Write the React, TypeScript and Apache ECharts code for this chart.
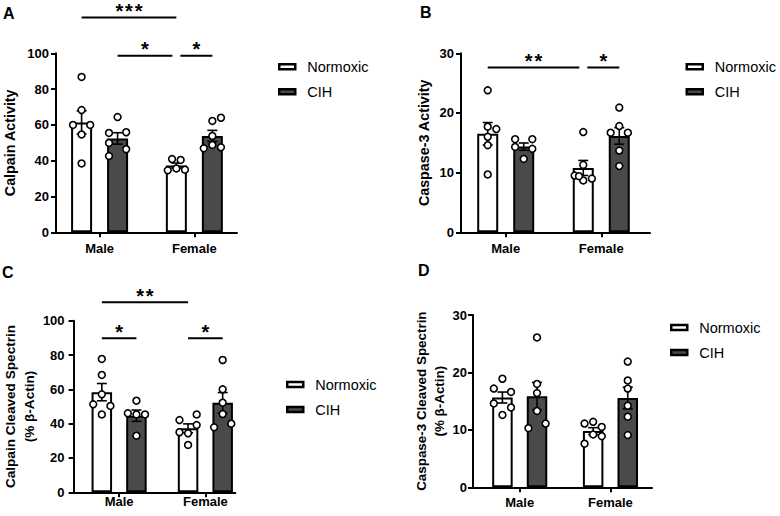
import React, { useEffect, useRef } from "react";
import * as echarts from "echarts";

// ---------- data ----------
const groups = ["Male", "Female"];
const treatments = ["Normoxic", "CIH"];

// Panel A – Calpain Activity (individual animals) [Male, Female]
const calpainActivityNormoxic = [
  [86.8, 68.3, 60.0, 60.0, 54.7, 38.5],
  [40.9, 40.4, 34.6, 35.7, 35.0],
];
const calpainActivityCIH = [
  [64.4, 55.5, 55.9, 49.9, 46.4, 42.6],
  [62.2, 64.0, 53.8, 46.9, 48.8, 47.5],
];

// Panel B – Caspase-3 Activity
const caspaseActivityNormoxic = [
  [23.8, 17.7, 17.3, 16.0, 14.6, 9.7],
  [16.8, 11.3, 9.5, 8.7, 9.0, 9.4],
];
const caspaseActivityCIH = [
  [15.6, 15.6, 14.3, 14.0, 12.3],
  [20.9, 17.8, 16.7, 16.7, 13.7, 11.1],
];

// Panel C – Calpain Cleaved Spectrin (% β-Actin)
const calpainSpectrinNormoxic = [
  [77.7, 68.4, 57.1, 51.3, 50.3, 45.4],
  [42.1, 45.4, 39.2, 35.0, 34.4, 27.6],
];
const calpainSpectrinCIH = [
  [53.4, 46.0, 45.4, 45.4, 33.0],
  [77.1, 60.0, 52.2, 45.6, 37.9, 40.0],
];

// Panel D – Caspase-3 Cleaved Spectrin (% β-Actin)
const caspaseSpectrinNormoxic = [
  [18.9, 17.2, 16.6, 14.6, 13.9, 12.6],
  [11.1, 11.4, 10.5, 9.2, 8.9, 7.6],
];
const caspaseSpectrinCIH = [
  [26.1, 18.0, 16.4, 13.3, 10.3, 11.1],
  [21.9, 18.6, 17.2, 14.2, 12.3, 9.1],
];

// significance brackets: [fromGroup, fromTreatment, toGroup, toTreatment, y, stars]
const bracketsA = [
  [0, 0, 1, 0, 120, 3],
  [0, 1, 1, 0, 98.7, 1],
  [1, 0, 1, 1, 98.7, 1],
];
const bracketsB = [
  [0, 0, 1, 0, 27.6, 2],
  [1, 0, 1, 1, 27.6, 1],
];
const bracketsC = [
  [0, 0, 1, 0, 110.7, 2],
  [0, 0, 0, 1, 89.7, 1],
  [1, 0, 1, 1, 89.7, 1],
];
const bracketsD: number[][] = [];

// ---------- dot arrangement (column slot of each dot in its bar) ----------
const colsA = {
  n: [[0, 0, -1, 1, 0, 0], [-0.5, 0.5, -1, 0, 1]],
  c: [[0, -1, 1, -1, 1, -1], [0, 1, 0, -1, 0, 1]],
};
const colsB = {
  n: [[0, 0, 1, 0, 0, 0], [0, 0, -1, 0, 1, -0.5]],
  c: [[-1, 1, -1, 1, 0], [0, 0, -1, 1, 0, 0]],
};
const colsC = {
  n: [[0, 0, 0, -1, 1, 0], [-1, 1, 1, -1, 0, 0]],
  c: [[0, -1, 1, 0, 0], [0, 0, 0, 0, -1, 1]],
};
const colsD = {
  n: [[0, -1, 1, -1, 1, 0], [-1, 0, 1, 0, 1, -1]],
  c: [[0, 0, 0, 0, -1, 1], [0, 0, 0, 0, 0, 0]],
};

const panels = [
  { letter: "A", yName: "Calpain Activity", yMax: 100, yInterval: 20, n: calpainActivityNormoxic, c: calpainActivityCIH, cols: colsA, brackets: bracketsA },
  { letter: "B", yName: "Caspase-3 Activity", yMax: 30, yInterval: 10, n: caspaseActivityNormoxic, c: caspaseActivityCIH, cols: colsB, brackets: bracketsB },
  { letter: "C", yName: "Calpain Cleaved Spectrin\n(% β-Actin)", yMax: 100, yInterval: 20, n: calpainSpectrinNormoxic, c: calpainSpectrinCIH, cols: colsC, brackets: bracketsC },
  { letter: "D", yName: "Caspase-3 Cleaved Spectrin\n(% β-Actin)", yMax: 30, yInterval: 10, n: caspaseSpectrinNormoxic, c: caspaseSpectrinCIH, cols: colsD, brackets: bracketsD },
];

// ---------- layout ----------
const layouts = [
  { grid: { left: 55, top: 53.3, width: 182, height: 179 }, xMin: -0.46, xMax: 1.45, barW: 21, pair: 36, xLabelMargin: 10, yLabelMargin: 7, nameGap: 37, nameSize: 14.3, nameLH: 18, letter: { left: 3, top: 5 }, legend: { left: 278, top: 59.3 } },
  { grid: { left: 461, top: 53.3, width: 189, height: 179 }, xMin: -0.468, xMax: 1.51, barW: 21, pair: 36, xLabelMargin: 10, yLabelMargin: 7, nameGap: 28.5, nameSize: 14.3, nameLH: 18, letter: { left: 420, top: 4 }, legend: { left: 685.5, top: 59.3 } },
  { grid: { left: 63.3, top: 320.7, width: 172, height: 171.6 }, xMin: -0.528, xMax: 1.347, barW: 20.5, pair: 34.6, xLabelMargin: 3, yLabelMargin: 9, nameGap: 28, nameSize: 13.6, nameLH: 19, letter: { left: 2, top: 264 }, legend: { left: 286, top: 377 } },
  { grid: { left: 473, top: 315, width: 179, height: 172.3 }, xMin: -0.515, xMax: 1.458, barW: 20.5, pair: 34.6, xLabelMargin: 8.5, yLabelMargin: 6, nameGap: 24, nameSize: 13.4, nameLH: 18, letter: { left: 418, top: 262 }, legend: { left: 670, top: 320 } },
];

const FONT = '"Liberation Sans", Arial, Helvetica, sans-serif';
const DOT_STEP = 8.6;
const DOT_R = 3.4;
const CAP = 5;
const TRIM = 4;
const STAR_STEP = 9.6;
const STAR_RAISE = 6.5;
const CIH_FILL = "#4a4a4a";

const mean = (a: number[]) => a.reduce((s, v) => s + v, 0) / a.length;
const sem = (a: number[]) => {
  const m = mean(a);
  const v = a.reduce((s, x) => s + (x - m) * (x - m), 0) / (a.length - 1);
  return Math.sqrt(v) / Math.sqrt(a.length);
};

function buildOption() {
  const grid: any[] = [];
  const xAxis: any[] = [];
  const yAxis: any[] = [];
  const series: any[] = [];
  const legend: any[] = [];
  const title: any[] = [];

  panels.forEach((p, i) => {
    const L = layouts[i];
    const tickVals = groups.map((_, k) => k);
    grid.push({ ...L.grid, containLabel: false });
    xAxis.push({
      type: "value",
      gridIndex: i,
      min: L.xMin,
      max: L.xMax,
      axisLine: { show: true, onZero: false, lineStyle: { color: "#000", width: 2 } },
      axisTick: { show: true, customValues: tickVals, length: 5, lineStyle: { color: "#000", width: 2 } },
      axisLabel: {
        show: true,
        customValues: tickVals,
        formatter: (v: number) => groups[Math.round(v)] ?? "",
        margin: L.xLabelMargin,
        color: "#000",
        fontSize: 13,
        fontWeight: "bold",
        fontFamily: FONT,
      },
      splitLine: { show: false },
    });
    yAxis.push({
      type: "value",
      gridIndex: i,
      min: 0,
      max: p.yMax,
      interval: p.yInterval,
      name: p.yName,
      nameLocation: "middle",
      nameRotate: 90,
      nameGap: L.nameGap,
      nameTextStyle: { fontSize: L.nameSize, fontWeight: "bold", fontFamily: FONT, color: "#000", lineHeight: L.nameLH },
      axisLine: { show: true, onZero: false, lineStyle: { color: "#000", width: 2 } },
      axisTick: { show: true, length: 5, lineStyle: { color: "#000", width: 2 } },
      axisLabel: { margin: L.yLabelMargin, color: "#000", fontSize: 13, fontWeight: "bold", fontFamily: FONT },
      splitLine: { show: false },
    });

    const half = L.pair / 2;
    const gapPct = ((L.pair - L.barW) / L.barW) * 100 + "%";
    const sets = [p.n, p.c];
    const colSets = [p.cols.n, p.cols.c];

    sets.forEach((vals, s) => {
      series.push({
        type: "bar",
        name: treatments[s],
        xAxisIndex: i,
        yAxisIndex: i,
        barWidth: L.barW,
        barGap: gapPct,
        silent: true,
        data: vals.map((pts, gi) => [gi, mean(pts)]),
        itemStyle: { color: s === 0 ? "#ffffff" : CIH_FILL, borderColor: "#000", borderWidth: 2 },
        z: 2,
      });
    });

    sets.forEach((vals, s) => {
      const cols = colSets[s];
      series.push({
        type: "custom",
        xAxisIndex: i,
        yAxisIndex: i,
        silent: true,
        clip: false,
        z: 4,
        data: vals.map((pts, gi) => [gi, mean(pts), sem(pts)]),
        renderItem: (params: any, api: any) => {
          const gi = api.value(0);
          const m = api.value(1);
          const e = api.value(2);
          const base = api.coord([gi, m]);
          const cx = base[0] + (s === 0 ? -half : half);
          const top = api.coord([gi, m + e])[1];
          const bot = api.coord([gi, m - e])[1];
          const ls = { stroke: "#000", lineWidth: 1.6 };
          const children: any[] = [
            { type: "line", shape: { x1: cx, y1: top, x2: cx, y2: bot }, style: ls },
            { type: "line", shape: { x1: cx - CAP, y1: top, x2: cx + CAP, y2: top }, style: ls },
            { type: "line", shape: { x1: cx - CAP, y1: bot, x2: cx + CAP, y2: bot }, style: ls },
          ];
          const pts = vals[params.dataIndex];
          const cc = cols[params.dataIndex];
          pts.forEach((v, k) => {
            const y = api.coord([gi, v])[1];
            children.push({
              type: "circle",
              shape: { cx: cx + (cc[k] || 0) * DOT_STEP, cy: y, r: DOT_R },
              style: { fill: "#fff", stroke: "#000", lineWidth: 1.6 },
            });
          });
          return { type: "group", children };
        },
      });
    });

    if (p.brackets.length) {
      series.push({
        type: "custom",
        xAxisIndex: i,
        yAxisIndex: i,
        silent: true,
        clip: false,
        z: 5,
        data: p.brackets.map((b) => [b[0], b[4]]),
        renderItem: (params: any, api: any) => {
          const b = p.brackets[params.dataIndex];
          const off = (t: number) => (t === 0 ? -half : half);
          // trim where two brackets meet at the same bar
          const meetsFrom = p.brackets.some((o, k) => k !== params.dataIndex && o[4] === b[4] && o[2] === b[0] && o[3] === b[1]);
          const meetsTo = p.brackets.some((o, k) => k !== params.dataIndex && o[4] === b[4] && o[0] === b[2] && o[1] === b[3]);
          const pFrom = api.coord([b[0], b[4]]);
          const pTo = api.coord([b[2], b[4]]);
          const x1 = pFrom[0] + off(b[1]) + (meetsFrom ? TRIM : 0);
          const x2 = pTo[0] + off(b[3]) - (meetsTo ? TRIM : 0);
          const y = pFrom[1];
          const children: any[] = [
            { type: "line", shape: { x1, y1: y, x2, y2: y }, style: { stroke: "#000", lineWidth: 2 } },
          ];
          const n = b[5];
          const mid = (x1 + x2) / 2;
          for (let k = 0; k < n; k++) {
            children.push({
              type: "text",
              x: mid + (k - (n - 1) / 2) * STAR_STEP,
              y: y - STAR_RAISE,
              style: { text: "*", fontSize: 20, fontWeight: "bold", fontFamily: FONT, fill: "#000", align: "center", verticalAlign: "middle" },
            });
          }
          return { type: "group", children };
        },
      });
    }

    legend.push({
      data: treatments,
      orient: "vertical",
      left: L.legend.left,
      top: L.legend.top,
      itemWidth: 16,
      itemHeight: 5,
      itemGap: 10,
      icon: "rect",
      padding: 0,
      selectedMode: false,
      itemStyle: { borderWidth: 2.5, borderColor: "#000" },
      textStyle: { fontSize: 14.5, fontFamily: FONT, color: "#000", lineHeight: 14, padding: [0, 0, 0, 7] },
    });

    title.push({
      text: p.letter,
      left: L.letter.left,
      top: L.letter.top,
      padding: 0,
      textStyle: { fontSize: 16, fontWeight: "bold", fontFamily: FONT, color: "#000" },
    });
  });

  return { animation: false, backgroundColor: "#fff", grid, xAxis, yAxis, series, legend, title };
}

export default function App() {
  const ref = useRef<HTMLDivElement>(null);
  useEffect(() => {
    const chart = echarts.init(ref.current!, null, { renderer: "svg" });
    chart.setOption(buildOption() as any);
    return () => chart.dispose();
  }, []);
  return (
    <div
      ref={ref}
      style={{ position: "absolute", left: 0, top: 0, width: 780, height: 516, background: "#fff" }}
    />
  );
}
